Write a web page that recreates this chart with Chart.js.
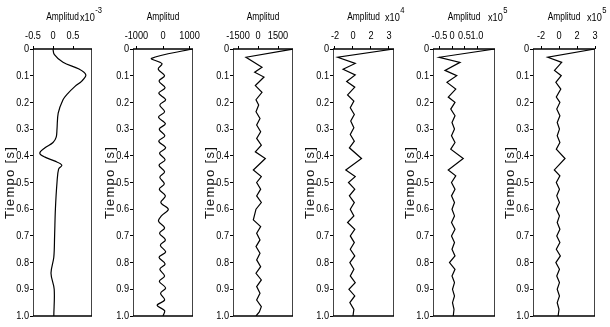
<!DOCTYPE html>
<html>
<head>
<meta charset="utf-8">
<script src="https://cdn.jsdelivr.net/npm/chart.js@4"></script>
<style>
  html, body { margin: 0; padding: 0; background: #fff; }
  #wrap { position: relative; width: 610px; height: 327px; overflow: hidden; background: #fff; }
  #wrap canvas { position: absolute; top: 0; }
</style>
</head>
<body>
<div id="wrap">
  <canvas id="c0" width="110" height="327" style="left:0px"></canvas>
  <canvas id="c1" width="110" height="327" style="left:100px"></canvas>
  <canvas id="c2" width="110" height="327" style="left:200px"></canvas>
  <canvas id="c3" width="110" height="327" style="left:300px"></canvas>
  <canvas id="c4" width="110" height="327" style="left:400px"></canvas>
  <canvas id="c5" width="110" height="327" style="left:500px"></canvas>
</div>
<script>
// time axis (seconds, downwards)
const timeTicks = [0, 0.1, 0.2, 0.3, 0.4, 0.5, 0.6, 0.7, 0.8, 0.9, 1.0];
const timeTickLabels = ['0', '0.1', '0.2', '0.3', '0.4', '0.5', '0.6', '0.7', '0.8', '0.9', '1.0'];

// panel 1 - amplitude x10^-3
const p1Time = [0, 0.02, 0.05, 0.075, 0.097, 0.12, 0.14, 0.17, 0.19, 0.24, 0.30, 0.33, 0.35, 0.37, 0.39, 0.405, 0.42, 0.435, 0.45, 0.5, 0.6, 0.7, 0.78, 0.84, 0.9, 1.0];
const p1Amp  = [0, 0.03, 0.25, 0.65, 0.82, 0.72, 0.55, 0.35, 0.25, 0.13, 0.10, 0.08, 0.0, -0.2, -0.33, -0.2, 0.05, 0.22, 0.14, 0.1, 0.06, 0.04, 0.02, -0.05, 0.03, 0.02];

// panel 2
const p2Time = [0, 0.035, 0.055, 0.075, 0.1, 0.12, 0.145, 0.165, 0.19, 0.21, 0.235, 0.255, 0.28, 0.3, 0.325, 0.345, 0.37, 0.39, 0.415, 0.435, 0.46, 0.48, 0.505, 0.525, 0.55, 0.575, 0.6, 0.625, 0.645, 0.67, 0.69, 0.715, 0.735, 0.76, 0.78, 0.805, 0.825, 0.85, 0.87, 0.895, 0.915, 0.94, 0.96, 0.98, 1.0];
const p2Amp  = [1120, -430, -40, -180, 60, -150, 80, -160, 100, -120, 60, -170, 90, -140, 70, -160, 100, -130, 80, -150, 60, -120, 50, -140, 90, -80, 200, -60, -170, 60, -130, 90, -100, 100, -150, 80, -120, 60, -140, 100, -90, 60, -220, 60, 0];

// panel 3
const p3Time = [0, 0.031, 0.068, 0.087, 0.105, 0.137, 0.162, 0.19, 0.21, 0.235, 0.26, 0.285, 0.31, 0.335, 0.36, 0.385, 0.41, 0.453, 0.478, 0.5, 0.525, 0.55, 0.575, 0.6, 0.64, 0.665, 0.69, 0.715, 0.74, 0.765, 0.79, 0.815, 0.84, 0.865, 0.89, 0.915, 0.94, 0.965, 0.985, 1.0];
const p3Amp  = [2650, -900, 300, -250, 450, -200, 300, -150, 50, -150, 150, -100, 200, -100, 250, -200, 550, -350, 250, -100, 200, -100, 250, -150, -350, 200, -100, 150, -150, 150, -100, 200, -150, 250, -100, 150, -100, 250, 100, -150];

// panel 4 - amplitude x10^4
const p4Time = [0, 0.031, 0.054, 0.076, 0.097, 0.122, 0.143, 0.172, 0.195, 0.22, 0.245, 0.27, 0.295, 0.32, 0.345, 0.37, 0.41, 0.453, 0.478, 0.5, 0.525, 0.55, 0.575, 0.6, 0.625, 0.65, 0.675, 0.7, 0.725, 0.75, 0.775, 0.8, 0.825, 0.85, 0.875, 0.9, 0.925, 0.95, 0.975, 1.0];
const p4Amp  = [4.55, -1.7, 0.25, -1.1, 0.25, -0.7, 0.2, -0.6, 0.1, -0.3, 0.15, -0.25, 0.1, -0.3, 0.15, -0.4, 0.95, -0.8, 0.25, -0.5, 0.2, -0.4, 0.15, -0.3, 0.1, -0.6, 0.2, -0.3, 0.15, -0.3, 0.2, -0.35, 0.1, -0.3, 0.25, -0.45, 0.2, -0.35, 0.1, 0.0];

// panel 5 - amplitude x10^5
const p5Time = [0, 0.031, 0.05, 0.08, 0.1, 0.125, 0.15, 0.18, 0.2, 0.225, 0.25, 0.275, 0.3, 0.325, 0.35, 0.375, 0.41, 0.453, 0.475, 0.5, 0.525, 0.55, 0.575, 0.6, 0.625, 0.65, 0.675, 0.7, 0.725, 0.75, 0.775, 0.8, 0.825, 0.85, 0.875, 0.9, 0.925, 0.95, 0.975, 1.0];
const p5Amp  = [1.72, -0.51, 0.32, -0.28, 0.19, -0.2, 0.15, -0.15, 0.12, -0.05, 0.12, 0.0, 0.1, -0.02, 0.12, -0.05, 0.45, -0.15, 0.15, -0.02, 0.12, -0.02, 0.1, 0.0, 0.1, -0.02, 0.12, -0.02, 0.1, 0.0, 0.12, -0.1, 0.12, 0.0, 0.1, 0.02, 0.1, 0.02, 0.08, 0.05];

// panel 6 - amplitude x10^5
const p6Time = [0, 0.031, 0.05, 0.08, 0.1, 0.125, 0.15, 0.18, 0.2, 0.225, 0.25, 0.275, 0.3, 0.325, 0.35, 0.375, 0.41, 0.453, 0.475, 0.5, 0.525, 0.55, 0.575, 0.6, 0.625, 0.65, 0.675, 0.7, 0.725, 0.75, 0.775, 0.8, 0.825, 0.85, 0.875, 0.9, 0.925, 0.95, 0.975, 1.0];
const p6Amp  = [4.0, -1.25, 0.3, -0.5, 0.25, -0.35, 0.2, -0.3, 0.1, -0.25, 0.1, -0.2, 0.05, -0.2, 0.1, -0.3, 0.67, -0.52, 0.1, -0.3, 0.05, -0.25, 0.05, -0.3, 0.05, -0.2, 0.1, -0.25, 0.1, -0.3, 0.15, -0.35, 0.05, -0.25, 0.05, -0.2, 0.05, -0.2, 0.0, -0.1];

// amplitude axes
const ampMin = [-0.5, -1130, -1875, -2.22, -0.76, -2.89];
const ampMax = [0.975, 1130, 2625, 4.56, 1.72, 4.0];
const ampTicks = [[-0.5, 0, 0.5], [-1000, 0, 1000], [-1500, 0, 1500], [-2, 0, 2, 4], [-0.5, 0, 0.5, 1.0], [-2, 0, 2, 4]];
const ampTickLabels = [['-0.5', '0', '0.5'], ['-1000', '0', '1000'], ['-1500', '0', '1500'], ['-2', '0', '2', '3'], ['-0.5', '0', '0.5', '1.0'], ['-2', '0', '2', '3']];
const ampExponent = ['-3', '', '', '4', '5', '5'];

const times = [p1Time, p2Time, p3Time, p4Time, p5Time, p6Time];
const amps = [p1Amp, p2Amp, p3Amp, p4Amp, p5Amp, p6Amp];

// layout (canvas-local pixels)
const boxRight = [92, 93, 93, 94, 95, 95];
const expX = [80, 0, 0, 85, 88, 87];
const smooth = [0.35, 0.35, 0, 0, 0, 0];

const sans = "'Liberation Sans', Arial, sans-serif";
const SQUEEZE = 0.8; // no narrow font installed, so squeeze the axis text
Chart.defaults.font.family = sans;
Chart.defaults.color = '#000';

function narrowText(ctx) {
    const fill = ctx.fillText.bind(ctx);
    ctx.fillText = function (text, x, y, maxWidth) {
        ctx.save();
        if (text === 'Tiempo [s]') {
            // wide-spaced title, not squeezed
            ctx.letterSpacing = '1.3px';
            fill(text, x, y);
        } else {
            ctx.translate(x, y);
            ctx.scale(SQUEEZE, 1);
            fill(text, 0, 0);
        }
        ctx.restore();
    };
}

// box around plot + "x10^n" label
const frame = {
    id: 'frame',
    afterDatasetsDraw(chart, args, opts) {
        const a = chart.chartArea;
        const ctx = chart.ctx;
        ctx.save();
        ctx.strokeStyle = '#444';
        ctx.lineWidth = 1;
        ctx.beginPath();
        ctx.moveTo(a.left + 0.5, a.top); ctx.lineTo(a.left + 0.5, a.bottom);
        ctx.moveTo(a.right - 0.5, a.top); ctx.lineTo(a.right - 0.5, a.bottom);
        ctx.stroke();
        ctx.strokeStyle = '#000';
        ctx.lineWidth = 1.6;
        ctx.beginPath();
        ctx.moveTo(a.left, a.top); ctx.lineTo(a.right, a.top);
        ctx.moveTo(a.left, a.bottom); ctx.lineTo(a.right, a.bottom);
        ctx.stroke();
        if (opts.exp) {
            ctx.fillStyle = '#000';
            ctx.textBaseline = 'alphabetic';
            ctx.textAlign = 'left';
            ctx.font = '11.5px ' + sans;
            ctx.fillText('x10', opts.x, 20.5);
            const w = ctx.measureText('x10').width * SQUEEZE;
            ctx.font = '9.5px ' + sans;
            ctx.fillText(opts.exp, opts.x + w + 0.5, 13);
        }
        ctx.restore();
    }
};

for (let i = 0; i < 6; i++) {
    const ctx = document.getElementById('c' + i).getContext('2d');
    narrowText(ctx);
    const pts = times[i].map((t, k) => ({ x: amps[i][k], y: t }));
    new Chart(ctx, {
        type: 'scatter',
        data: {
            datasets: [{
                data: pts,
                showLine: true,
                borderColor: '#000',
                borderWidth: 1.2,
                pointRadius: 0,
                tension: smooth[i]
            }]
        },
        options: {
            responsive: false,
            animation: false,
            layout: { padding: { left: 0, top: 0, right: 110 - boxRight[i], bottom: 11 } },
            plugins: {
                legend: { display: false },
                tooltip: { enabled: false },
                frame: { exp: ampExponent[i], x: expX[i] }
            },
            scales: {
                x: {
                    type: 'linear',
                    position: 'top',
                    min: ampMin[i],
                    max: ampMax[i],
                    afterBuildTicks: s => { s.ticks = ampTicks[i].map(v => ({ value: v })); },
                    afterFit: s => { s.height = 49; s.paddingLeft = 0; s.paddingRight = 0; },
                    ticks: {
                        autoSkip: false,
                        maxRotation: 0,
                        padding: 3,
                        font: { size: 11.5 },
                        callback: (v, k) => ampTickLabels[i][k]
                    },
                    grid: { drawOnChartArea: false, drawTicks: true, tickLength: 3, color: '#000' },
                    border: { display: false },
                    title: {
                        display: true,
                        text: 'Amplitud',
                        font: { size: 10.5 },
                        padding: { top: 11, bottom: 0 }
                    }
                },
                y: {
                    type: 'linear',
                    position: 'left',
                    min: 0,
                    max: 1,
                    reverse: true,
                    afterBuildTicks: s => { s.ticks = timeTicks.map(v => ({ value: v })); },
                    afterFit: s => { s.width = 33; s.paddingTop = 0; s.paddingBottom = 0; },
                    ticks: {
                        autoSkip: false,
                        padding: 1,
                        font: { size: 11.5 },
                        callback: (v, k) => timeTickLabels[k]
                    },
                    grid: { drawOnChartArea: false, drawTicks: true, tickLength: 3, color: '#000' },
                    border: { display: false },
                    title: {
                        display: true,
                        text: 'Tiempo [s]',
                        color: '#111',
                        font: { size: 13 },
                        padding: { top: 3, bottom: 0 }
                    }
                }
            }
        },
        plugins: [frame]
    });
}
</script>
</body>
</html>
